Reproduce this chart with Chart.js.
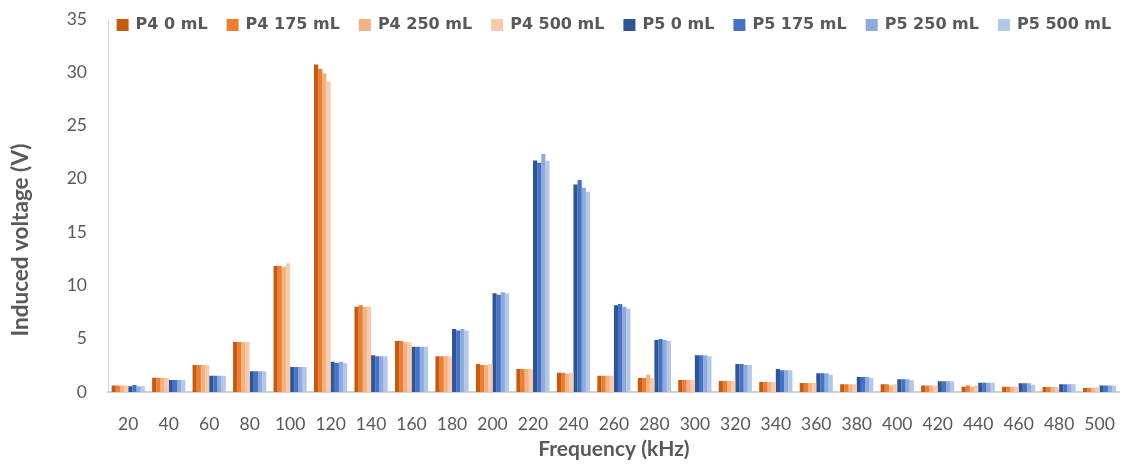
<!DOCTYPE html>
<html>
<head>
<meta charset="utf-8">
<script src="https://cdn.jsdelivr.net/npm/chart.js@4.4.1/dist/chart.umd.min.js"></script>
<style>
  html, body { margin: 0; padding: 0; background: #ffffff; }
  #wrap { width: 1137px; height: 468px; }
</style>
</head>
<body>
<div id="wrap"><canvas id="chart" width="1137" height="468"></canvas></div>
<script>
// Frequency categories (kHz)
const frequencies = [20, 40, 60, 80, 100, 120, 140, 160, 180, 200, 220, 240, 260,
                     280, 300, 320, 340, 360, 380, 400, 420, 440, 460, 480, 500];

// Induced voltage (V), probe P4
const p4_0mL   = [0.62, 1.33, 2.53, 4.69, 11.82, 30.74, 8.00, 4.78, 3.35, 2.63, 2.16, 1.81, 1.53,
                  1.31, 1.13, 1.03, 0.94, 0.84, 0.72, 0.72, 0.60, 0.50, 0.50, 0.47, 0.37];
const p4_175mL = [0.62, 1.33, 2.53, 4.69, 11.82, 30.33, 8.13, 4.78, 3.35, 2.53, 2.16, 1.81, 1.53,
                  1.31, 1.13, 1.03, 0.94, 0.84, 0.72, 0.72, 0.60, 0.60, 0.50, 0.47, 0.37];
const p4_250mL = [0.62, 1.33, 2.53, 4.69, 11.75, 29.92, 8.00, 4.66, 3.35, 2.53, 2.16, 1.72, 1.53,
                  1.63, 1.13, 1.03, 0.94, 0.84, 0.72, 0.60, 0.60, 0.50, 0.50, 0.47, 0.37];
const p4_500mL = [0.60, 1.33, 2.53, 4.69, 12.07, 29.11, 8.00, 4.66, 3.35, 2.63, 2.16, 1.81, 1.53,
                  1.31, 1.13, 1.03, 0.94, 0.84, 0.72, 0.72, 0.60, 0.60, 0.50, 0.47, 0.47];

// Induced voltage (V), probe P5
const p5_0mL   = [0.53, 1.13, 1.53, 1.94, 2.35, 2.85, 3.44, 4.25, 5.91, 9.26, 21.73, 19.48, 8.13,
                  4.88, 3.44, 2.63, 2.16, 1.75, 1.41, 1.19, 1.00, 0.87, 0.81, 0.72, 0.60];
const p5_175mL = [0.66, 1.13, 1.53, 1.94, 2.35, 2.72, 3.35, 4.25, 5.78, 9.13, 21.51, 19.89, 8.25,
                  4.97, 3.44, 2.63, 2.03, 1.75, 1.41, 1.19, 1.00, 0.87, 0.81, 0.72, 0.60];
const p5_250mL = [0.53, 1.13, 1.53, 1.94, 2.35, 2.85, 3.35, 4.25, 5.91, 9.35, 22.33, 19.17, 8.00,
                  4.88, 3.44, 2.53, 2.03, 1.75, 1.41, 1.19, 1.00, 0.87, 0.81, 0.72, 0.60];
const p5_500mL = [0.53, 1.13, 1.53, 1.94, 2.35, 2.72, 3.35, 4.25, 5.78, 9.26, 21.70, 18.79, 7.82,
                  4.78, 3.35, 2.53, 2.03, 1.63, 1.31, 1.10, 1.00, 0.87, 0.69, 0.72, 0.60];

const seriesLabels = ['P4 0 mL', 'P4 175 mL', 'P4 250 mL', 'P4 500 mL',
                      'P5 0 mL', 'P5 175 mL', 'P5 250 mL', 'P5 500 mL'];
const seriesValues = [p4_0mL, p4_175mL, p4_250mL, p4_500mL,
                      p5_0mL, p5_175mL, p5_250mL, p5_500mL];
const seriesColors = ['#C55A11', '#ED7D31', '#F4B183', '#F8CBAD',
                      '#2F5597', '#4472C4', '#8FAADC', '#B4C7E7'];

const yTicks = [0, 5, 10, 15, 20, 25, 30, 35];

const textColor = '#595959';
const tickFont = { family: 'Lato', size: 17.5 };
const titleFont = { family: 'Lato', size: 21, weight: 'bold' };

// One-row legend drawn over the top of the plot area, centred on it
const legendRow = {
  id: 'legendRow',
  afterDraw(chart, args, opts) {
    const ctx = chart.ctx;
    const area = chart.chartArea;
    ctx.save();
    ctx.font = opts.font;
    const items = chart.data.datasets.map(ds => ({
      text: ds.label,
      color: ds.backgroundColor,
      w: opts.box + opts.gap + ctx.measureText(ds.label).width
    }));
    const total = items.reduce((s, it) => s + it.w, 0) + opts.spacing * (items.length - 1);
    let x = (area.left + area.right) / 2 - total / 2;
    const y = opts.y;
    ctx.textBaseline = 'middle';
    ctx.textAlign = 'left';
    items.forEach(it => {
      ctx.fillStyle = it.color;
      ctx.fillRect(x, y - opts.box / 2, opts.box, opts.box);
      ctx.fillStyle = opts.color;
      ctx.fillText(it.text, x + opts.box + opts.gap, y);
      x += it.w + opts.spacing;
    });
    ctx.restore();
  }
};

// Rotated title for the value axis
const yAxisTitle = {
  id: 'yAxisTitle',
  afterDraw(chart, args, opts) {
    const ctx = chart.ctx;
    ctx.save();
    ctx.translate(opts.x, opts.y);
    ctx.rotate(-Math.PI / 2);
    ctx.font = opts.font;
    ctx.fillStyle = opts.color;
    ctx.textAlign = 'center';
    ctx.textBaseline = 'middle';
    ctx.fillText(opts.text, 0, 0);
    ctx.restore();
  }
};

new Chart(document.getElementById('chart'), {
  type: 'bar',
  data: {
    labels: frequencies.map(String),
    datasets: seriesLabels.map((label, i) => ({
      label: label,
      data: seriesValues[i],
      backgroundColor: seriesColors[i],
      borderWidth: 0,
      categoryPercentage: 0.82,
      barPercentage: 1.0
    }))
  },
  options: {
    responsive: false,
    animation: false,
    devicePixelRatio: 1,
    layout: { padding: { top: 19, right: 9, bottom: 0, left: 0 } },
    plugins: {
      legend: { display: false },
      tooltip: { enabled: false },
      legendRow: {
        font: 'bold 16px "DejaVu Sans"',
        color: textColor,
        box: 12,
        gap: 7,
        spacing: 19,
        y: 25
      },
      yAxisTitle: {
        text: 'Induced voltage (V)',
        font: 'bold 22.5px Lato',
        color: textColor,
        x: 21,
        y: 240
      }
    },
    scales: {
      x: {
        grid: { display: false, drawTicks: false },
        border: { display: true, color: '#d0d0d0', width: 2 },
        ticks: { color: textColor, font: tickFont, padding: 22, maxRotation: 0, autoSkip: false },
        title: {
          display: true,
          text: 'Frequency (kHz)',
          color: textColor,
          font: titleFont,
          padding: { top: 0, bottom: 6 }
        },
        afterFit(scale) { scale.height = 76; }
      },
      y: {
        min: 0,
        max: 35,
        grid: { display: false, drawTicks: false },
        border: { display: true, color: '#d9d9d9', width: 1 },
        ticks: {
          color: textColor,
          font: tickFont,
          padding: 21,
          stepSize: 5,
          callback: (v) => yTicks.includes(v) ? String(v) : ''
        },
        afterFit(scale) {
          scale.width = 108;
          // the plot spans the full height between the legend line and the category axis
          scale.paddingTop = 0;
          scale.paddingBottom = 0;
        }
      }
    }
  },
  plugins: [legendRow, yAxisTitle]
});
</script>
</body>
</html>
